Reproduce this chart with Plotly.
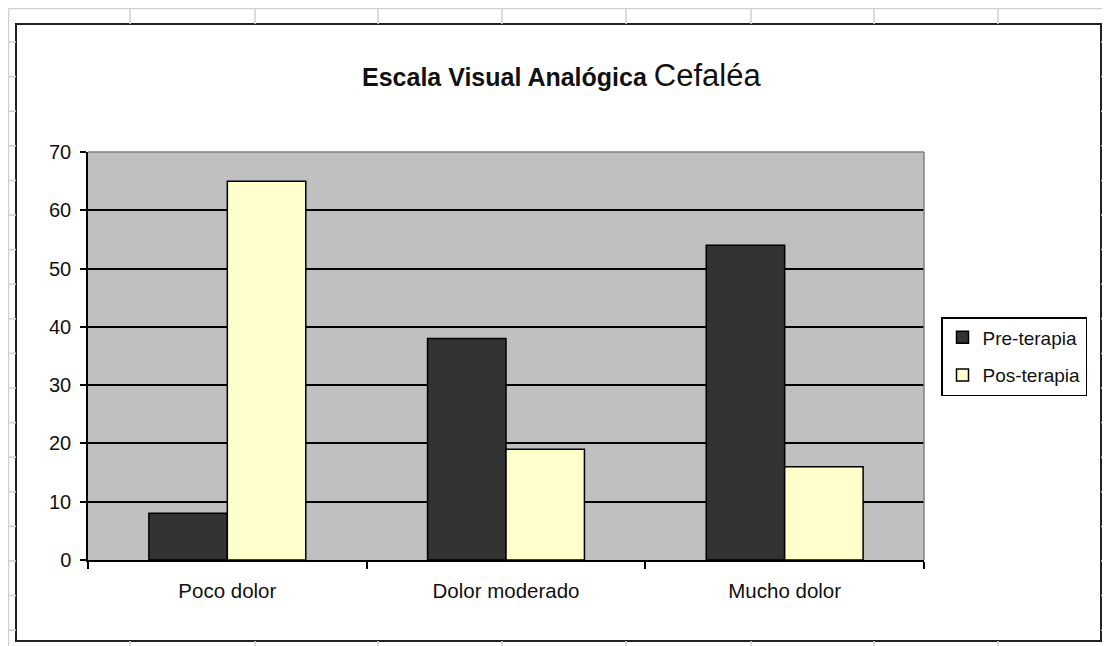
import plotly.graph_objects as go

categories = ["Poco dolor", "Dolor moderado", "Mucho dolor"]
pre_terapia = [8, 38, 54]
pos_terapia = [65, 19, 16]
series_names = ["Pre-terapia", "Pos-terapia"]
y_ticks = [0, 10, 20, 30, 40, 50, 60, 70]

OFF = 8  # page body margin
W, H = 1110 - OFF, 646 - OFF
# plot area in page px
PL, PR, PT, PB = 88, 924, 152, 560
L, R, T, B = PL - OFF, PR - OFF, PT - OFF, PB - OFF


def X(px):
    return (px - PL) / (PR - PL)


def Y(py):
    return (PB - py) / (PB - PT)


FONT = "Liberation Sans, Arial, sans-serif"

fig = go.Figure()
fig.add_trace(go.Bar(x=categories, y=pre_terapia, name=series_names[0], legendgroup="a",
                     marker=dict(color="#333333", line=dict(color="#000000", width=1.5))))
fig.add_trace(go.Bar(x=categories, y=pos_terapia, name=series_names[1], legendgroup="b",
                     marker=dict(color="#FFFFCC", line=dict(color="#000000", width=1.5))))

shapes = []
grid_col = "#d0d0d0"
top_y = OFF + 0.5
left_x = OFF + 0.5
# spreadsheet grid behind the chart object
shapes.append(dict(type="line", xref="paper", yref="paper", x0=X(left_x), x1=X(1110), y0=Y(top_y), y1=Y(top_y),
                   line=dict(color=grid_col, width=1.5)))
shapes.append(dict(type="line", xref="paper", yref="paper", x0=X(left_x), x1=X(left_x), y0=Y(top_y), y1=Y(646),
                   line=dict(color=grid_col, width=1.5)))
for cx in [130, 255, 378, 502, 626, 751, 874, 998]:
    shapes.append(dict(type="line", xref="paper", yref="paper", x0=X(cx), x1=X(cx), y0=Y(top_y), y1=Y(24),
                       line=dict(color=grid_col, width=1.5)))
    shapes.append(dict(type="line", xref="paper", yref="paper", x0=X(cx), x1=X(cx), y0=Y(641), y1=Y(646),
                       line=dict(color=grid_col, width=1.5)))
ry = 42.0
while ry < 646:
    shapes.append(dict(type="line", xref="paper", yref="paper", x0=X(left_x), x1=X(16), y0=Y(ry), y1=Y(ry),
                       line=dict(color=grid_col, width=1.5)))
    shapes.append(dict(type="line", xref="paper", yref="paper", x0=X(1101), x1=X(1110), y0=Y(ry), y1=Y(ry),
                       line=dict(color=grid_col, width=1.5)))
    ry += 34.6
# chart frame
shapes.append(dict(type="rect", xref="paper", yref="paper", x0=X(16), x1=X(1101), y0=Y(641), y1=Y(24),
                   line=dict(color="#222222", width=2), layer="below"))
# plot area top/right gray border
shapes.append(dict(type="line", xref="paper", yref="paper", x0=0, x1=1, y0=1, y1=1,
                   line=dict(color="#808080", width=1.5)))
shapes.append(dict(type="line", xref="paper", yref="paper", x0=1, x1=1, y0=0, y1=1,
                   line=dict(color="#808080", width=1.5)))

fig.update_layout(
    width=W, height=H,
    margin=dict(l=L, r=W - R, t=T, b=H - B, pad=0),
    paper_bgcolor="white",
    plot_bgcolor="#c0c0c0",
    barmode="group",
    bargap=0.437,
    bargroupgap=0,
    font=dict(family=FONT, size=20, color="#111111"),
    showlegend=True,
    legend=dict(x=X(941), y=Y(317), xanchor="left", yanchor="top",
                bgcolor="white", bordercolor="#000000", borderwidth=1.5,
                font=dict(family=FONT, size=19, color="#111111"),
                tracegroupgap=10, traceorder="grouped"),
    shapes=shapes,
    annotations=[dict(
        xref="paper", yref="paper", x=X(561), y=Y(75), xanchor="center", yanchor="middle",
        showarrow=False,
        text="<b>Escala Visual Analógica</b> <span style='font-size:31px'>Cefaléa</span>",
        font=dict(family=FONT, size=25, color="#111111"),
    )],
)

fig.update_xaxes(
    showline=True, linecolor="#000000", linewidth=1.5,
    ticks="outside", tickson="boundaries", ticklen=7, tickwidth=1.5, tickcolor="#000000",
    showgrid=False, tickfont=dict(family=FONT, size=20.5, color="#111111"),
    ticklabelstandoff=12,
)
fig.update_yaxes(
    range=[0, 70], tickvals=y_ticks, showline=True, linecolor="#000000", linewidth=1.5,
    ticks="outside", ticklen=6, tickwidth=1.5, tickcolor="#000000",
    showgrid=True, gridcolor="#000000", gridwidth=1.5, zeroline=False,
    tickfont=dict(family=FONT, size=20, color="#111111"),
    ticklabelstandoff=5,
)

fig.write_html("out.html")
